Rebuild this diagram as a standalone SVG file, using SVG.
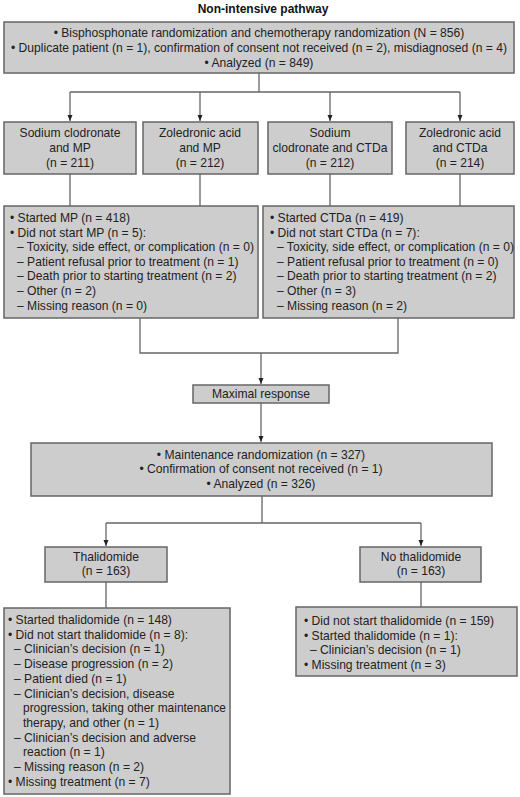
<svg xmlns="http://www.w3.org/2000/svg" width="520" height="797" viewBox="0 0 520 797">
<defs>
<style>
.box{fill:#cdcdcd;stroke:#666;stroke-width:1.5}
.t{font-family:"Liberation Sans",Arial,sans-serif;font-size:12.1px;fill:#222}
.c{text-anchor:middle}
.title{font-family:"Liberation Sans",Arial,sans-serif;font-size:12px;font-weight:bold;fill:#111;text-anchor:middle}
.ln{fill:none;stroke:#666;stroke-width:1.3}
</style>
<marker id="ah" viewBox="0 0 6 6" refX="6" refY="3" markerWidth="6" markerHeight="6" markerUnits="userSpaceOnUse" orient="auto">
<path d="M0,0.5 L6,3 L0,5.5 Z" fill="#222"/>
</marker>
</defs>
<rect width="520" height="797" fill="#fff"/>
<text class="title" x="263" y="13">Non-intensive pathway</text>

<g id="connectors">
<path class="ln" d="M259,73 V92 M70,92 H460"/>
<path class="ln" d="M70,92 V121" marker-end="url(#ah)"/>
<path class="ln" d="M200,92 V121" marker-end="url(#ah)"/>
<path class="ln" d="M330,92 V121" marker-end="url(#ah)"/>
<path class="ln" d="M460,92 V121" marker-end="url(#ah)"/>
<path class="ln" d="M70,174 V206 M200,174 V206 M330,174 V206 M460,174 V206"/>
<path class="ln" d="M140,318 V353 H398 V318"/>
<path class="ln" d="M261,353 V384" marker-end="url(#ah)"/>
<path class="ln" d="M261,403 V442" marker-end="url(#ah)"/>
<path class="ln" d="M262,496 V523 M106,523 H421"/>
<path class="ln" d="M106,523 V546" marker-end="url(#ah)"/>
<path class="ln" d="M421,523 V546" marker-end="url(#ah)"/>
<path class="ln" d="M106,582 V608 M421,582 V607"/>
</g>

<g id="n_top">
<rect class="box" x="4" y="22" width="510" height="51"/>
<text class="t c" x="259" y="37">• Bisphosphonate randomization and chemotherapy randomization (N = 856)</text>
<text class="t c" x="259" y="52">• Duplicate patient (n = 1), confirmation of consent not received (n = 2), misdiagnosed (n = 4)</text>
<text class="t c" x="259" y="67">• Analyzed (n = 849)</text>
</g>

<g id="n_scmp">
<rect class="box" x="4" y="122" width="132" height="52"/>
<text class="t c" x="70" y="137">Sodium clodronate</text>
<text class="t c" x="70" y="152">and MP</text>
<text class="t c" x="70" y="167">(n = 211)</text>
</g>
<g id="n_zamp">
<rect class="box" x="143" y="122" width="115" height="52"/>
<text class="t c" x="200" y="137">Zoledronic acid</text>
<text class="t c" x="200" y="152">and MP</text>
<text class="t c" x="200" y="167">(n = 212)</text>
</g>
<g id="n_scctd">
<rect class="box" x="268" y="122" width="124" height="52"/>
<text class="t c" x="330" y="137">Sodium</text>
<text class="t c" x="330" y="152">clodronate and CTDa</text>
<text class="t c" x="330" y="167">(n = 212)</text>
</g>
<g id="n_zactd">
<rect class="box" x="406" y="122" width="108" height="52"/>
<text class="t c" x="460" y="137">Zoledronic acid</text>
<text class="t c" x="460" y="152">and CTDa</text>
<text class="t c" x="460" y="167">(n = 214)</text>
</g>

<g id="n_mp">
<rect class="box" x="4" y="206" width="254" height="112"/>
<text class="t" x="10" y="222">• Started MP (n = 418)</text>
<text class="t" x="10" y="237">• Did not start MP (n = 5):</text>
<text class="t" x="17" y="251">– Toxicity, side effect, or complication (n = 0)</text>
<text class="t" x="17" y="266">– Patient refusal prior to treatment (n = 1)</text>
<text class="t" x="17" y="280">– Death prior to starting treatment (n = 2)</text>
<text class="t" x="17" y="295">– Other (n = 2)</text>
<text class="t" x="17" y="310">– Missing reason (n = 0)</text>
</g>
<g id="n_ctda">
<rect class="box" x="263" y="206" width="251" height="112"/>
<text class="t" x="270" y="222">• Started CTDa (n = 419)</text>
<text class="t" x="270" y="237">• Did not start CTDa (n = 7):</text>
<text class="t" x="277" y="251">– Toxicity, side effect, or complication (n = 0)</text>
<text class="t" x="277" y="266">– Patient refusal prior to treatment (n = 0)</text>
<text class="t" x="277" y="280">– Death prior to starting treatment (n = 2)</text>
<text class="t" x="277" y="295">– Other (n = 3)</text>
<text class="t" x="277" y="310">– Missing reason (n = 2)</text>
</g>

<g id="n_maxresp">
<rect class="box" x="193" y="385" width="136" height="18"/>
<text class="t c" x="261" y="398">Maximal response</text>
</g>

<g id="n_maint">
<rect class="box" x="31" y="443" width="461" height="53"/>
<text class="t c" x="261" y="459">• Maintenance randomization (n = 327)</text>
<text class="t c" x="261" y="473">• Confirmation of consent not received (n = 1)</text>
<text class="t c" x="261" y="488">• Analyzed (n = 326)</text>
</g>

<g id="n_thal">
<rect class="box" x="45" y="547" width="122" height="35"/>
<text class="t c" x="106" y="561">Thalidomide</text>
<text class="t c" x="106" y="575">(n = 163)</text>
</g>
<g id="n_nothal">
<rect class="box" x="360" y="547" width="121" height="35"/>
<text class="t c" x="421" y="561">No thalidomide</text>
<text class="t c" x="421" y="575">(n = 163)</text>
</g>

<g id="n_thal_detail">
<rect class="box" x="4" y="608" width="226" height="186"/>
<text class="t" x="8" y="624">• Started thalidomide (n = 148)</text>
<text class="t" x="8" y="638.7">• Did not start thalidomide (n = 8):</text>
<text class="t" x="14" y="653.4">– Clinician’s decision (n = 1)</text>
<text class="t" x="14" y="668">– Disease progression (n = 2)</text>
<text class="t" x="14" y="682.8">– Patient died (n = 1)</text>
<text class="t" x="14" y="697.5">– Clinician’s decision, disease</text>
<text class="t" x="23" y="712" textLength="203" lengthAdjust="spacingAndGlyphs">progression, taking other maintenance</text>
<text class="t" x="23" y="727">therapy, and other (n = 1)</text>
<text class="t" x="14" y="741.6">– Clinician’s decision and adverse</text>
<text class="t" x="23" y="756.3">reaction (n = 1)</text>
<text class="t" x="14" y="771">– Missing reason (n = 2)</text>
<text class="t" x="8" y="785.7">• Missing treatment (n = 7)</text>
</g>

<g id="n_nothal_detail">
<rect class="box" x="296" y="607" width="221" height="69"/>
<text class="t" x="304" y="625">• Did not start thalidomide (n = 159)</text>
<text class="t" x="304" y="639.5">• Started thalidomide (n = 1):</text>
<text class="t" x="310" y="654">– Clinician’s decision (n = 1)</text>
<text class="t" x="304" y="668.5">• Missing treatment (n = 3)</text>
</g>
</svg>
